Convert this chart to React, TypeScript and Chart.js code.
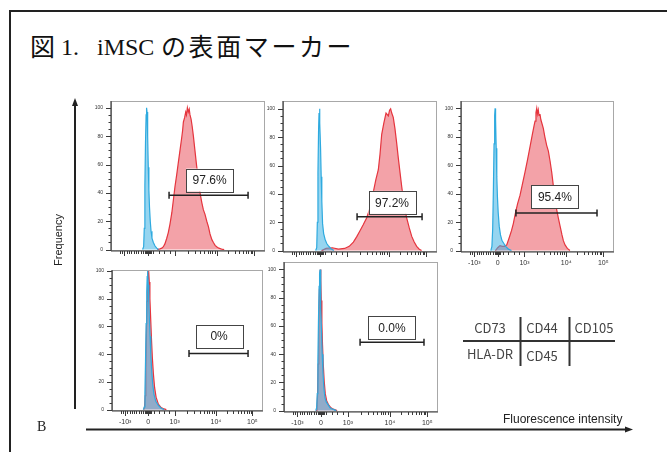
import React, { useEffect, useRef } from "react";
import { Chart, registerables } from "chart.js";

Chart.register(...registerables);

// ---------- data ----------
// x axis: display channel (0..1000) of a biexponential fluorescence axis
const xMajorPos = [87, 240, 415, 688, 930];
const xMajorLabels = ["-10³", "0", "10³", "10⁴", "10⁵"];
const xMinorPos = [
  60, 72, 102, 117, 132, 147, 162, 177, 192, 207, 219, 226, 230, 233, 236, 244, 247, 250, 253, 258,
  275, 310, 345, 380, 497, 545, 580, 606, 627, 645, 659, 674, 761, 803, 833, 857, 876, 892, 906, 918,
];
const yMajor = [0, 20, 40, 60, 80, 100];
const yMinor = [5, 10, 15, 25, 30, 35, 45, 50, 55, 65, 70, 75, 85, 90, 95];

// CD73
const cd73IsoX = [205, 212, 216, 220, 224, 228, 231, 234, 238, 242, 246, 250, 255, 260, 266, 275, 286, 297, 308];
const cd73IsoY = [0, 2, 15, 45, 75, 95, 100, 97, 80, 58, 42, 30, 20, 13, 8, 5, 2.5, 1, 0];
const cd73X = [300, 318, 330, 340, 350, 362, 372, 383, 395, 405, 415, 427, 438, 448, 458, 465, 470, 478, 485, 490, 496, 502, 508, 513, 520, 527, 535, 545, 556, 567, 578, 590, 600, 610, 622, 633, 643, 655, 665, 676, 686, 700, 718, 735];
const cd73Y = [0, 0.5, 1, 2, 4, 8, 12, 18, 26, 35, 44, 53, 62, 70, 78, 84, 90, 93, 97, 95, 100, 97, 99, 95, 92, 87, 80, 70, 59, 50, 40, 33, 28, 25, 20, 16, 11, 7, 5, 3, 2, 1, 0.3, 0];

// CD44
const cd44IsoX = [212, 219, 223, 227, 231, 234, 237, 240, 244, 248, 252, 257, 264, 273, 284, 294, 310, 330];
const cd44IsoY = [0, 2, 20, 55, 85, 97, 100, 90, 72, 52, 35, 19, 12, 8, 5, 3.5, 1.5, 0];
const cd44X = [250, 280, 320, 360, 400, 430, 457, 480, 500, 520, 543, 565, 586, 603, 619, 630, 641, 655, 669, 684, 692, 699, 706, 716, 727, 738, 749, 760, 771, 781, 792, 803, 820, 836, 852, 868, 885, 900];
const cd44Y = [0, 1.5, 2, 1, 1.5, 3, 6, 10, 14, 18, 23, 30, 41, 50, 57, 68, 82, 90, 97, 95, 99, 100, 97, 94, 86, 76, 65, 55, 45, 37, 29, 23, 16, 10, 6, 3, 1, 0];

// CD105
const cd105IsoX = [195, 202, 207, 212, 216, 220, 223, 226, 230, 234, 238, 243, 250, 258, 268, 280, 292, 310, 330];
const cd105IsoY = [0, 3, 15, 45, 75, 95, 100, 92, 72, 52, 38, 27, 17, 11, 7, 5, 3, 1, 0];
const cd105X = [225, 240, 255, 270, 285, 299, 315, 330, 342, 355, 370, 386, 400, 418, 435, 451, 467, 478, 484, 490, 495, 499, 505, 510, 516, 522, 530, 538, 548, 560, 571, 582, 593, 603, 614, 625, 636, 648, 660, 669, 680, 695, 712];
const cd105Y = [0, 2, 3.5, 3, 3, 4, 9, 14, 19, 26, 33, 39, 46, 55, 64, 73, 82, 88, 91, 97, 100, 96, 99, 95, 96, 92, 89, 86, 80, 74, 70, 63, 55, 46, 37, 29, 23, 17, 11, 7, 4, 1.5, 0];

// HLA-DR
const hlaIsoX = [208, 214, 218, 222, 226, 230, 233, 236, 240, 244, 248, 252, 257, 263, 270, 278, 290, 307, 325, 345];
const hlaIsoY = [0, 2, 12, 35, 62, 85, 96, 100, 90, 76, 64, 53, 40, 28, 18, 11, 6, 3, 1, 0];
const hlaX = [210, 216, 220, 224, 228, 232, 236, 240, 243, 247, 251, 256, 261, 267, 274, 282, 292, 307, 325, 345, 360];
const hlaY = [0, 2, 10, 30, 55, 78, 92, 98, 100, 92, 80, 66, 52, 38, 26, 16, 9, 4, 1.5, 0.5, 0];

// CD45
const cd45IsoX = [206, 212, 216, 220, 224, 228, 231, 234, 237, 240, 244, 248, 253, 259, 266, 275, 287, 299, 315, 340];
const cd45IsoY = [0, 2, 12, 35, 65, 88, 97, 100, 88, 72, 55, 40, 27, 16, 9, 6, 4, 2, 1, 0];
const cd45X = [208, 214, 218, 222, 226, 230, 233, 236, 239, 242, 246, 250, 255, 261, 268, 277, 290, 305, 320, 345];
const cd45Y = [0, 2, 11, 33, 62, 86, 96, 100, 92, 78, 62, 47, 33, 21, 12, 7, 4, 2, 1, 0];

// gates and percentages (CD73, CD44, CD105, HLA-DR, CD45)
const gateFrom = [377, 481, 359, 510, 494];
const gateTo = [890, 903, 889, 901, 909];
const gateLevel = [38.4, 23.9, 26.5, 40.5, 48.4];
const percentLabels = ["97.6%", "97.2%", "95.4%", "0%", "0.0%"];
const percentX = [640, 708, 614, 709, 701];
const percentY = [49, 34, 37.7, 53, 59];

const tableRow1 = ["CD73", "CD44", "CD105"];
const tableRow2 = ["HLA-DR", "CD45", ""];

// ---------- layout ----------
const Y_AXIS_W = 26;
const PAD_TOP = 6;
const PAD_RIGHT = 4;
const X_AXIS_H = 22;
const SANS = '"Liberation Sans", Arial, sans-serif';
const CJK = '"Noto Sans CJK JP", sans-serif';
const SERIF = '"Liberation Serif", serif';

type Frame = { l: number; t: number; r: number; b: number };
type PanelDef = {
  frame: Frame;
  yMax: number;
  showXLabels: boolean;
  isoX: number[];
  isoY: number[];
  markX: number[];
  markY: number[];
  idx: number;
};

const panels: PanelDef[] = [
  { frame: { l: 111, t: 96, r: 265, b: 251 }, yMax: 104.8, showXLabels: false, isoX: cd73IsoX, isoY: cd73IsoY, markX: cd73X, markY: cd73Y, idx: 0 },
  { frame: { l: 283, t: 96, r: 437, b: 252 }, yMax: 105.5, showXLabels: false, isoX: cd44IsoX, isoY: cd44IsoY, markX: cd44X, markY: cd44Y, idx: 1 },
  { frame: { l: 461, t: 96, r: 614, b: 252 }, yMax: 105.2, showXLabels: true, isoX: cd105IsoX, isoY: cd105IsoY, markX: cd105X, markY: cd105Y, idx: 2 },
  { frame: { l: 112, t: 265, r: 263, b: 411 }, yMax: 100.7, showXLabels: true, isoX: hlaIsoX, isoY: hlaIsoY, markX: hlaX, markY: hlaY, idx: 3 },
  { frame: { l: 284, t: 257, r: 438, b: 412 }, yMax: 105.3, showXLabels: true, isoX: cd45IsoX, isoY: cd45IsoY, markX: cd45X, markY: cd45Y, idx: 4 },
];

function Histogram({ p }: { p: PanelDef }) {
  const ref = useRef<HTMLCanvasElement | null>(null);
  const w = p.frame.r - p.frame.l + Y_AXIS_W + PAD_RIGHT;
  const h = p.frame.b - p.frame.t + PAD_TOP + X_AXIS_H;

  useEffect(() => {
    if (!ref.current) return;
    const i = p.idx;
    const decor = {
      id: "decor" + i,
      afterDatasetsDraw(chart: any) {
        const { ctx, chartArea: a } = chart;
        const x = chart.scales.x;
        const y = chart.scales.y;
        const line = (x1: number, y1: number, x2: number, y2: number) => {
          ctx.beginPath();
          ctx.moveTo(x1, y1);
          ctx.lineTo(x2, y2);
          ctx.stroke();
        };
        ctx.save();
        // frame
        ctx.strokeStyle = "#a8a8a8";
        ctx.lineWidth = 1;
        ctx.strokeRect(a.left + 0.5, a.top + 0.5, a.right - a.left - 1, a.bottom - a.top - 1);
        // axes
        ctx.strokeStyle = "#3a3a3a";
        ctx.lineWidth = 1.2;
        line(a.left, a.top, a.left, a.bottom);
        line(a.left, a.bottom, a.right, a.bottom);
        // y ticks
        ctx.lineWidth = 1;
        for (const v of yMinor) {
          if (v > y.max) continue;
          const py = Math.round(y.getPixelForValue(v)) + 0.5;
          line(a.left - 2.5, py, a.left, py);
        }
        for (const v of yMajor) {
          if (v > y.max) continue;
          const py = Math.round(y.getPixelForValue(v)) + 0.5;
          line(a.left - 5, py, a.left, py);
        }
        // x ticks
        for (const v of xMinorPos) {
          const px = Math.round(x.getPixelForValue(v)) + 0.5;
          line(px, a.bottom, px, a.bottom + 3);
        }
        for (const v of xMajorPos) {
          const px = Math.round(x.getPixelForValue(v)) + 0.5;
          line(px, a.bottom, px, a.bottom + 5);
        }
        // gate
        const gy = y.getPixelForValue(gateLevel[i]);
        const g1 = x.getPixelForValue(gateFrom[i]);
        const g2 = x.getPixelForValue(gateTo[i]);
        ctx.strokeStyle = "#222";
        ctx.lineWidth = 1.5;
        line(g1, gy, g2, gy);
        line(g1, gy - 3.5, g1, gy + 3.5);
        line(g2, gy - 3.5, g2, gy + 3.5);
        // percentage box
        const cx = x.getPixelForValue(percentX[i]);
        const cy = y.getPixelForValue(percentY[i]);
        const bw = 47;
        const bh = 23;
        ctx.fillStyle = "#fff";
        ctx.fillRect(cx - bw / 2, cy - bh / 2, bw, bh);
        ctx.strokeStyle = "#444";
        ctx.lineWidth = 1;
        ctx.strokeRect(Math.round(cx - bw / 2) + 0.5, Math.round(cy - bh / 2) + 0.5, bw, bh);
        ctx.fillStyle = "#222";
        ctx.font = "12px " + SANS;
        ctx.textAlign = "center";
        ctx.textBaseline = "middle";
        ctx.fillText(percentLabels[i], cx, cy + 1);
        ctx.restore();
      },
    };

    const chart = new Chart(ref.current, {
      type: "line",
      data: {
        datasets: [
          {
            // isotype control (drawn on top)
            data: p.isoX.map((v, k) => ({ x: v, y: p.isoY[k] })),
            borderColor: "#2eaadf",
            backgroundColor: "rgba(64,178,228,0.55)",
            borderWidth: 1.2,
            fill: "origin",
            pointRadius: 0,
            tension: 0,
          },
          {
            // marker antibody
            data: p.markX.map((v, k) => ({ x: v, y: p.markY[k] })),
            borderColor: "#e5353e",
            backgroundColor: "#f3a2a8",
            borderWidth: 1.2,
            fill: "origin",
            pointRadius: 0,
            tension: 0,
          },
        ],
      },
      options: {
        responsive: false,
        animation: false,
        events: [],
        layout: { padding: { top: PAD_TOP, right: PAD_RIGHT, left: 0, bottom: 0 } },
        plugins: { legend: { display: false }, tooltip: { enabled: false } },
        scales: {
          x: {
            type: "linear",
            min: 0,
            max: 1000,
            grid: { display: false, drawTicks: false },
            border: { display: false },
            afterBuildTicks: (s: any) => {
              s.ticks = xMajorPos.map((v) => ({ value: v }));
            },
            afterFit: (s: any) => {
              s.height = X_AXIS_H;
            },
            ticks: {
              display: p.showXLabels,
              autoSkip: false,
              maxRotation: 0,
              padding: 7,
              color: "#333",
              font: { size: 7, family: SANS },
              callback: (v: any) => xMajorLabels[xMajorPos.indexOf(Number(v))],
            },
          },
          y: {
            type: "linear",
            min: -1,
            max: p.yMax,
            grid: { display: false, drawTicks: false },
            border: { display: false },
            afterBuildTicks: (s: any) => {
              s.ticks = yMajor.filter((v) => v <= p.yMax).map((v) => ({ value: v }));
            },
            afterFit: (s: any) => {
              s.width = Y_AXIS_W;
            },
            ticks: {
              padding: 8,
              color: "#333",
              font: { size: 5, family: SANS },
              callback: (v: any) => String(v),
            },
          },
        },
      },
      plugins: [decor],
    } as any);
    return () => chart.destroy();
  }, [p]);

  return (
    <canvas
      ref={ref}
      width={w}
      height={h}
      style={{
        position: "absolute",
        left: p.frame.l - Y_AXIS_W,
        top: p.frame.t - PAD_TOP,
        width: w,
        height: h,
      }}
    />
  );
}

const abs = (left: number, top: number, extra: React.CSSProperties): React.CSSProperties => ({
  position: "absolute",
  left,
  top,
  whiteSpace: "nowrap",
  lineHeight: 1,
  ...extra,
});

export default function App() {
  const cell = (text: string, cx: number, cy: number) => (
    <div
      key={text + cx + cy}
      style={abs(cx, cy, {
        transform: "translate(-50%, -50%)",
        fontFamily: CJK,
        fontSize: 13,
        color: "#444",
      })}
    >
      {text}
    </div>
  );
  const colX = [490, 542, 594];
  return (
    <div style={{ position: "absolute", left: 0, top: 0, width: 667, height: 452, overflow: "hidden", background: "#fff" }}>
      {/* outer frame */}
      <div style={{ position: "absolute", left: 9, top: 10, width: 700, height: 500, border: "2px solid #222", boxSizing: "border-box" }} />
      {/* title */}
      <div style={abs(30, 33, { fontFamily: CJK, fontSize: 25, color: "#111" })}>図</div>
      <div style={abs(61, 35, { fontFamily: SERIF, fontSize: 24, color: "#111" })}>1.</div>
      <div style={abs(97, 35, { fontFamily: SERIF, fontSize: 24, color: "#111" })}>iMSC</div>
      <div style={abs(161, 33, { fontFamily: CJK, fontSize: 25, color: "#111", letterSpacing: 2.6 })}>の表面マーカー</div>

      {panels.map((p) => (
        <Histogram key={p.idx} p={p} />
      ))}

      {/* axes arrows and table lines */}
      <svg width={667} height={452} style={{ position: "absolute", left: 0, top: 0, pointerEvents: "none" }}>
        <line x1={75} y1={409} x2={75} y2={104} stroke="#222" strokeWidth={2} />
        <polygon points="75,98 72,106 78,106" fill="#222" />
        <line x1={86} y1={429.5} x2={626} y2={429.5} stroke="#222" strokeWidth={2} />
        <polygon points="633,429.5 625,426.5 625,432.5" fill="#222" />
        <line x1={463} y1={341} x2={615} y2={341} stroke="#333" strokeWidth={2} />
        <line x1={520.5} y1={317} x2={520.5} y2={366} stroke="#333" strokeWidth={2} />
        <line x1={569.5} y1={317} x2={569.5} y2={366} stroke="#333" strokeWidth={2} />
      </svg>

      {tableRow1.map((t, k) => cell(t, colX[k], 327))}
      {tableRow2.map((t, k) => (t ? cell(t, colX[k], k === 0 ? 353 : 355) : null))}

      <div
        style={abs(58, 240, {
          transform: "translate(-50%, -50%) rotate(-90deg)",
          fontFamily: SANS,
          fontSize: 11,
          color: "#222",
        })}
      >
        Frequency
      </div>
      <div style={abs(503, 413, { fontFamily: SANS, fontSize: 12, color: "#222" })}>Fluorescence intensity</div>
      <div style={abs(37, 420, { fontFamily: SERIF, fontSize: 14, color: "#222" })}>B</div>
    </div>
  );
}
